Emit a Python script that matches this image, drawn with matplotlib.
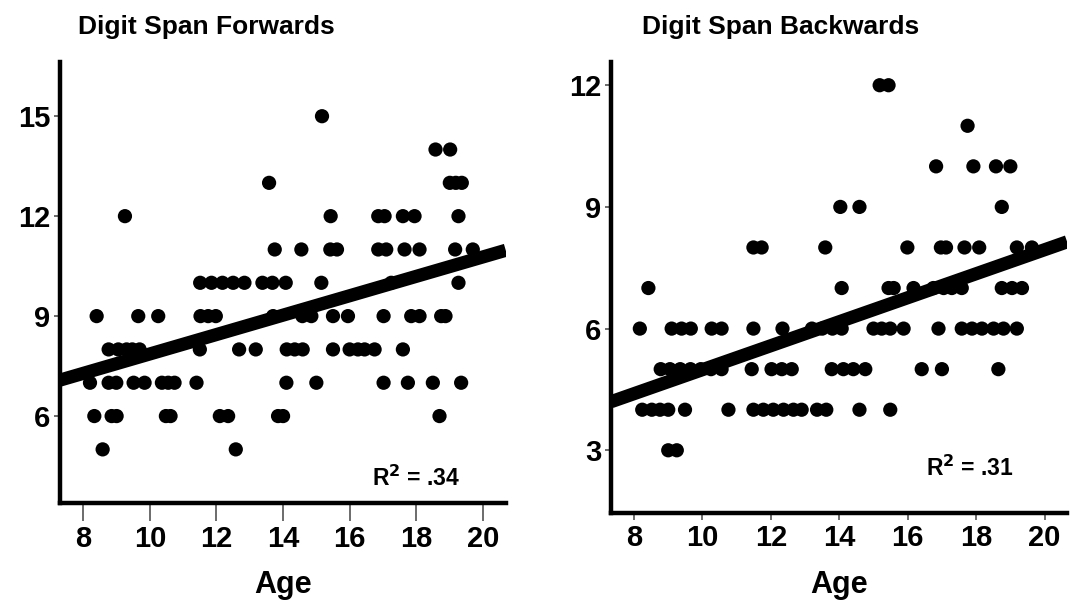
import numpy as np
import matplotlib.pyplot as plt

plt.rcParams['font.family'] = ['Liberation Sans', 'DejaVu Sans']
plt.rcParams['font.weight'] = 'bold'

# Digit span forwards: ages grouped by score
fwd_scores = [15, 14, 13, 12, 11, 10, 9, 8, 7, 6, 5]
fwd_ages = [
    [15.17],
    [18.58, 19.02],
    [13.58, 19.01, 19.19, 19.37],
    [9.25, 15.43, 16.86, 17.05, 17.6, 17.95, 19.27],
    [13.75, 14.55, 15.42, 15.62, 16.86, 17.1, 17.65, 18.1, 19.17, 19.7],
    [11.51, 11.85, 12.18, 12.5, 12.84, 13.38, 13.68, 14.08, 15.15, 17.25,
     19.27],
    [8.4, 9.65, 10.25, 11.52, 11.75, 11.98, 13.7, 14.58, 14.85, 15.5, 15.95,
     17.02, 17.85, 18.1, 18.75, 18.88],
    [8.76, 9.05, 9.3, 9.47, 9.69, 11.5, 12.68, 13.18, 14.11, 14.35, 14.59,
     15.5, 16.0, 16.25, 16.45, 16.75, 17.6],
    [8.2, 8.76, 8.99, 9.51, 9.84, 10.36, 10.55, 10.74, 11.4, 14.1, 15.0,
     17.02, 17.75, 18.5, 19.35],
    [8.33, 8.85, 9.0, 10.48, 10.62, 12.1, 12.35, 13.85, 14.0, 18.7],
    [8.58, 12.58],
]
fwd_fit = (0.291, 4.955)  # slope, intercept
fwd_r2 = '.34'

# Digit span backwards: ages grouped by score
bwd_scores = [12, 11, 10, 9, 8, 7, 6, 5, 4, 3]
bwd_ages = [
    [15.18, 15.44],
    [17.75],
    [16.83, 17.92, 18.58, 19.0],
    [14.03, 14.59, 18.75],
    [11.49, 11.73, 13.59, 15.99, 16.97, 17.12, 17.66, 18.09, 19.19, 19.63],
    [8.42, 14.07, 15.44, 15.59, 16.17, 16.75, 17.05, 17.29, 17.58, 18.75,
     19.05, 19.34],
    [8.17, 9.1, 9.39, 9.66, 10.27, 10.56, 11.49, 12.34, 13.2, 13.5, 13.8,
     14.07, 15.0, 15.24, 15.49, 15.88, 16.9, 17.58, 17.88, 18.17, 18.51,
     18.8, 19.19],
    [8.78, 9.05, 9.35, 9.65, 9.95, 10.25, 10.56, 11.44, 12.02, 12.32, 12.61,
     13.78, 14.12, 14.41, 14.76, 16.41, 17.0, 18.65],
    [8.24, 8.52, 8.76, 9.0, 9.49, 10.76, 11.49, 11.78, 12.07, 12.37, 12.66,
     12.9, 13.35, 13.62, 14.59, 15.49],
    [9.0, 9.25],
]
bwd_fit = (0.2957, 2.03)
bwd_r2 = '.31'

age_ticks = [8, 10, 12, 14, 16, 18, 20]


def panel(ax, scores, ages, fit, r2, xlim, ylim, yticks, r2_pos, xtick_len):
    x = np.concatenate([np.array(a) for a in ages])
    y = np.concatenate([np.full(len(a), s) for a, s in zip(ages, scores)])
    ax.scatter(x, y, s=105, color='black', edgecolors='none', zorder=2)
    xs = np.array(xlim)
    ax.plot(xs, fit[0] * xs + fit[1], color='black', lw=9.5,
            solid_capstyle='butt', zorder=3)
    ax.set_xlim(xlim)
    ax.set_ylim(ylim)
    ax.set_xticks(age_ticks)
    ax.set_yticks(yticks)
    for side in ['top', 'right']:
        ax.spines[side].set_visible(False)
    for side in ['left', 'bottom']:
        ax.spines[side].set_linewidth(3.2)
        ax.spines[side].set_color('black')
    ax.tick_params(axis='x', length=xtick_len, width=1.1, color='#444444',
                   labelsize=21, pad=2.5)
    ax.tick_params(axis='y', length=4, width=1.1, color='#444444',
                   labelsize=21, pad=3)
    for lab in ax.get_xticklabels() + ax.get_yticklabels():
        lab.set_fontweight('bold')
    ax.text(r2_pos[0], r2_pos[1], r'R$^{\mathbf{2}}$ = ' + r2,
            transform=ax.transAxes, fontsize=16.5, fontweight='bold',
            ha='left', va='center')


fig = plt.figure(figsize=(10.74, 6.03), dpi=100)
ax1 = fig.add_axes([0.0559, 0.1658, 0.415, 0.731])
ax2 = fig.add_axes([0.569, 0.149, 0.4246, 0.748])

panel(ax1, fwd_scores, fwd_ages, fwd_fit, fwd_r2, (7.3, 20.69),
      (3.39, 16.62), [6, 9, 12, 15], (0.70, 0.055), 13)
panel(ax2, bwd_scores, bwd_ages, bwd_fit, bwd_r2, (7.33, 20.66),
      (1.45, 12.57), [3, 6, 9, 12], (0.69, 0.10), 5)

# axis labels share one baseline
for axis in [ax1, ax2]:
    pos = axis.get_position()
    fig.text(pos.x0 + pos.width / 2, 1 - 593 / 603, 'Age', fontsize=22,
             fontweight='bold', ha='center', va='baseline')

fig.text(0.0726, 0.955, 'Digit Span Forwards', fontsize=19,
         fontweight='bold', va='center', ha='left')
fig.text(0.598, 0.955, 'Digit Span Backwards', fontsize=19,
         fontweight='bold', va='center', ha='left')

fig.savefig('out.png', dpi=100)
